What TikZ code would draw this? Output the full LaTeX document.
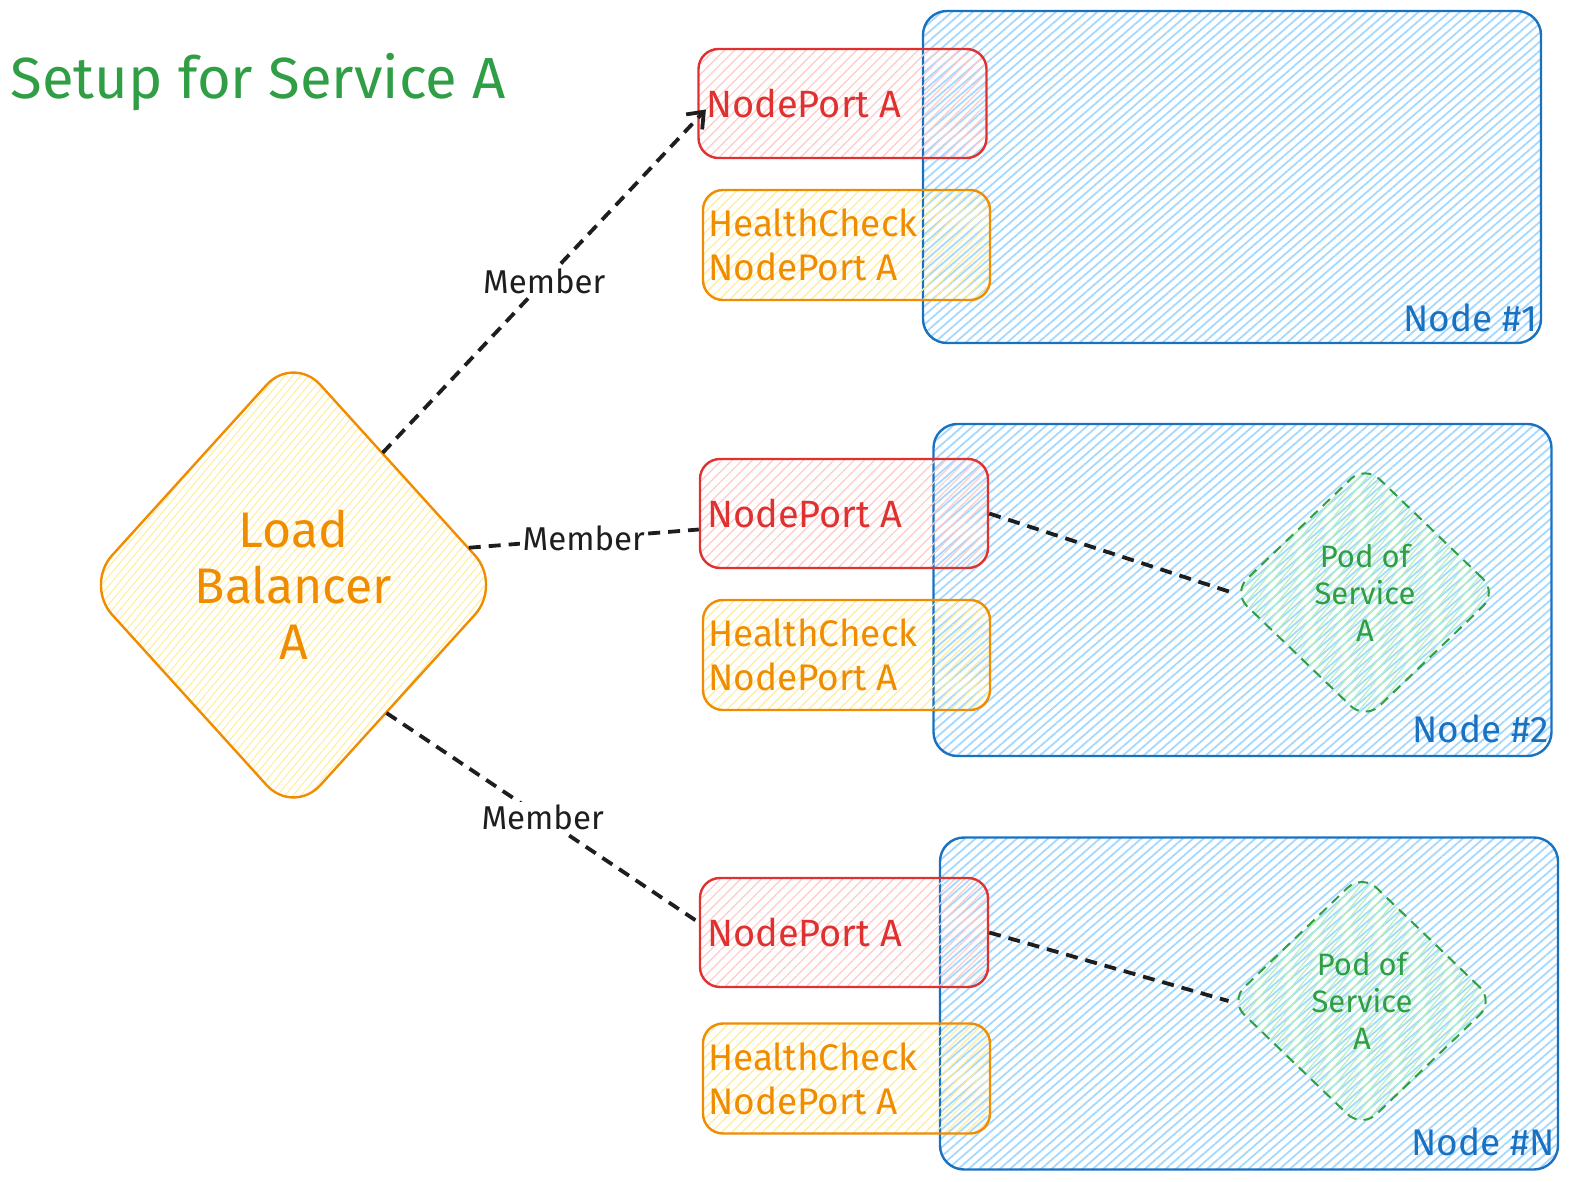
\documentclass[tikz,border=0pt]{standalone}
\usepackage{fontspec}
\setmainfont{Fira Sans}
\usetikzlibrary{shapes.geometric,patterns.meta,arrows.meta}
\definecolor{cblue}{HTML}{1971C2}
\definecolor{hblue}{HTML}{A5D8FF}
\definecolor{cred}{HTML}{E03131}
\definecolor{hred}{HTML}{FFC9C9}
\definecolor{corange}{HTML}{F08C00}
\definecolor{horange}{HTML}{FFEC99}
\definecolor{cgreen}{HTML}{2F9E44}
\definecolor{hgreen}{HTML}{B2F2BB}
\definecolor{cblack}{HTML}{1E1E1E}
\tikzset{
  hostbox/.style={draw=cblue, line width=1.2pt, rounded corners=12pt,
    minimum width=309pt, minimum height=166pt, inner sep=0pt,
    pattern={Lines[angle=41,distance=3.4pt,line width=0.9pt]}, pattern color=hblue},
  npbox/.style={draw=cred, line width=1.2pt, rounded corners=10pt,
    minimum width=144pt, minimum height=54.5pt, inner sep=0pt,
    pattern={Lines[angle=45,distance=3.6pt,line width=0.6pt]}, pattern color=hred},
  hcbox/.style={draw=corange, line width=1.2pt, rounded corners=10pt,
    minimum width=143.5pt, minimum height=55pt, inner sep=0pt,
    pattern={Lines[angle=45,distance=3.6pt,line width=0.6pt]}, pattern color=horange},
  nptext/.style={text=cred, font=\fontsize{19}{22}\selectfont, anchor=west, inner sep=0pt, align=left},
  hctext/.style={text=corange, font=\fontsize{18.5}{22}\selectfont, anchor=west, inner sep=0pt, align=left},
  hostlabel/.style={text=cblue, font=\fontsize{18.5}{22}\selectfont, anchor=south east, inner sep=0pt},
  lbshape/.style={shape=diamond, draw=corange, line width=1.2pt, rounded corners=20pt,
    minimum width=208.5pt, minimum height=230pt, inner sep=0pt,
    pattern={Lines[angle=50,distance=3pt,line width=0.5pt]}, pattern color=horange,
    text=corange, align=center, font=\fontsize{25}{28}\selectfont},
  podshape/.style={shape=diamond, draw=cgreen, line width=1pt, rounded corners=10pt,
    dash pattern=on 5pt off 3.5pt,
    minimum width=132.5pt, minimum height=127.5pt, inner sep=0pt,
    pattern={Lines[angle=50,distance=3pt,line width=0.6pt]}, pattern color=hgreen,
    text=cgreen, align=center, font=\fontsize{15.5}{18.5}\selectfont},
  conn/.style={draw=cblack, line width=1.9pt, dash pattern=on 6pt off 4pt},
  member/.style={fill=white, text=cblack, inner sep=1.5pt, font=\fontsize{16.5}{20}\selectfont},
}
\begin{document}
\begin{tikzpicture}[x=0.5pt,y=-0.5pt]
\useasboundingbox (0,0) rectangle (1570,1182);

% title
\node[text=cgreen, font=\fontsize{29}{34}\selectfont, anchor=west, inner sep=0pt] (title) at (10,82) {Setup for Service A};

% hosts
\node[hostbox] (host1) at (1232,177) {};
\node[hostbox] (host2) at (1242.5,590) {};
\node[hostbox] (hostN) at (1249,1003.5) {};

% nodeport / healthcheck boxes
\node[npbox] (np1) at (842.5,103.5) {};
\node[hcbox] (hc1) at (846.5,245) {};
\node[npbox] (np2) at (844,513.5) {};
\node[hcbox] (hc2) at (846.5,655) {};
\node[npbox] (npN) at (844,932.5) {};
\node[hcbox] (hcN) at (846.5,1078.5) {};

\node[nptext] (np1t) at ([xshift=4pt]np1.west) {NodePort A};
\node[hctext] (hc1t) at ([xshift=3pt]hc1.west) {HealthCheck\\NodePort A};
\node[nptext] (np2t) at ([xshift=4pt]np2.west) {NodePort A};
\node[hctext] (hc2t) at ([xshift=3pt]hc2.west) {HealthCheck\\NodePort A};
\node[nptext] (npNt) at ([xshift=4pt]npN.west) {NodePort A};
\node[hctext] (hcNt) at ([xshift=3pt]hcN.west) {HealthCheck\\NodePort A};

% host labels
\node[hostlabel] (host1l) at ([xshift=-2pt,yshift=6pt]host1.south east) {Node \#1};
\node[hostlabel] (host2l) at ([xshift=-2pt,yshift=7pt]host2.south east) {Node \#2};
\node[hostlabel] (hostNl) at ([xshift=-2pt,yshift=7pt]hostN.south east) {Node \#N};

% load balancer
\node[lbshape] (lb) at (293.5,585) {Load\\Balancer\\A};

% pods
\node[podshape] (pod2) at (1365,592.5) {Pod of\\Service\\A};
\node[podshape] (podN) at (1362,1001) {Pod of\\Service\\A};

% connectors
\draw[conn, -{Straight Barb[length=7pt,width=11pt,line width=1.9pt]}] (lb.56) -- ([xshift=4pt,yshift=-3pt]np1.west)
  node[member, midway] {Member};
\draw[conn] (lb.12) -- ([yshift=-8pt]np2.west) node[member, midway] {Member};
\draw[conn] (lb.-54) -- ([yshift=5pt]npN.west) node[member, midway] {Member};
\draw[conn] (np2.east) -- (pod2.west);
\draw[conn] (npN.east) -- (podN.west);
\end{tikzpicture}
\end{document}
